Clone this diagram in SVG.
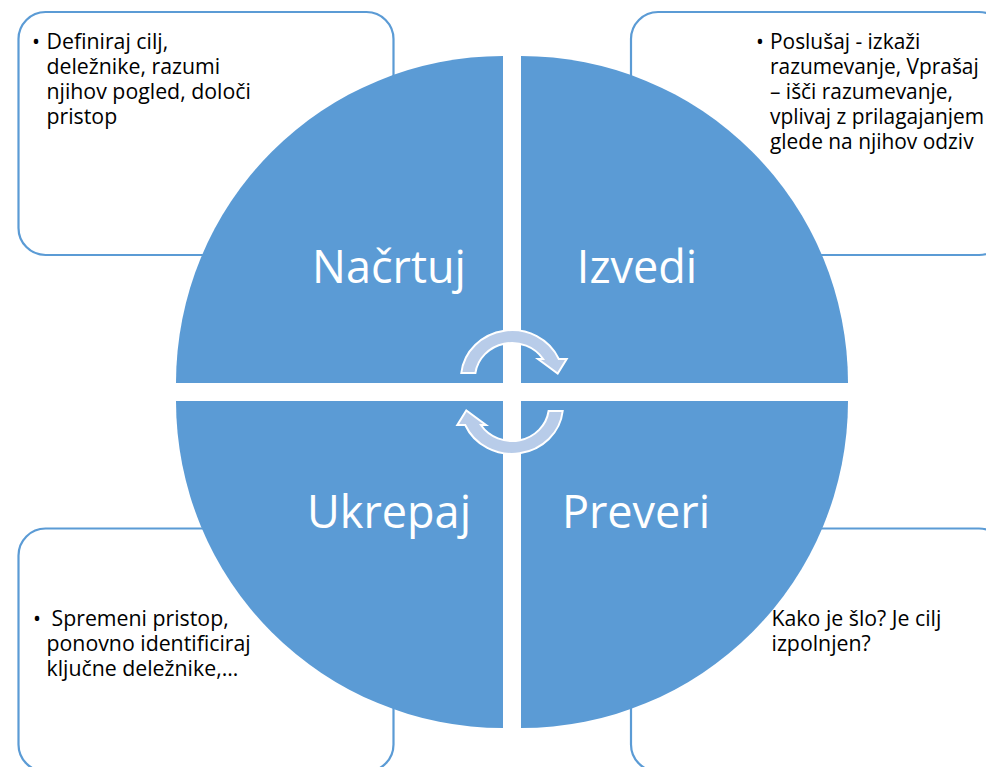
<svg xmlns="http://www.w3.org/2000/svg" width="986" height="767" viewBox="0 0 986 767">
<style>
.box{fill:#fff;stroke:#5B9BD5;stroke-width:2.2}
.quad{fill:#5B9BD5}
.big{font-family:"Open Sans","Noto Sans","Liberation Sans",sans-serif;font-size:45px;fill:#fff;text-anchor:middle}
.txt{font-family:"Open Sans","Noto Sans","Liberation Sans",sans-serif;font-size:21.3px;fill:#000}
.txt2{font-family:"Open Sans","Noto Sans","Liberation Sans",sans-serif;font-size:20.9px;fill:#000}
.arr{fill:#B8CCE9;stroke:#fff;stroke-width:2;stroke-linejoin:miter}
</style>
<rect width="986" height="767" fill="#fff"/>
<g id="box-tl">
<rect class="box" x="18.5" y="12" width="375" height="243" rx="27"/>
<text class="txt"><tspan x="32" y="49">•</tspan><tspan x="46.5" y="49">Definiraj cilj,</tspan><tspan x="46.5" y="74">deležnike, razumi</tspan><tspan x="46.5" y="99">njihov pogled, določi</tspan><tspan x="46.5" y="124">pristop</tspan></text>
</g>
<g id="box-tr">
<rect class="box" x="631" y="12" width="375" height="243" rx="27"/>
<text class="txt2"><tspan x="756" y="49">•</tspan><tspan x="770" y="49">Poslušaj - izkaži</tspan><tspan x="770" y="74">razumevanje, Vprašaj</tspan><tspan x="770" y="99">– išči razumevanje,</tspan><tspan x="770" y="124">vplivaj z prilagajanjem</tspan><tspan x="770" y="149">glede na njihov odziv</tspan></text>
</g>
<g id="box-bl">
<rect class="box" x="18.5" y="528.5" width="375" height="243" rx="27"/>
<text class="txt"><tspan x="33" y="626">•</tspan><tspan x="51.5" y="626">Spremeni pristop,</tspan><tspan x="46.5" y="651">ponovno identificiraj</tspan><tspan x="46.5" y="676">ključne deležnike,…</tspan></text>
</g>
<g id="box-br">
<rect class="box" x="631" y="528.5" width="375" height="243" rx="27"/>
<text class="txt"><tspan x="771.5" y="626">Kako je šlo? Je cilj</tspan><tspan x="771.5" y="651">izpolnjen?</tspan></text>
</g>
<g id="q-nacrtuj">
<path class="quad" d="M503,383 L176,383 A327,327 0 0 1 503,56 Z"/>
<text class="big" x="389" y="283">Načrtuj</text>
</g>
<g id="q-izvedi">
<path class="quad" d="M521,383 L521,56 A327,327 0 0 1 848,383 Z"/>
<text class="big" x="637" y="283">Izvedi</text>
</g>
<g id="q-preveri">
<path class="quad" d="M521,401 L848,401 A327,327 0 0 1 521,728 Z"/>
<text class="big" x="636" y="528">Preveri</text>
</g>
<g id="q-ukrepaj">
<path class="quad" d="M503,401 L503,728 A327,327 0 0 1 176,401 Z"/>
<text class="big" x="389" y="528">Ukrepaj</text>
</g>
<g id="connectors">
<path id="arrow-top" class="arr" d="M461.3,373 A51,48 0 0 1 558.8,359 L566.7,359 L557.7,373.5 L538,359 L543.1,359 A37,35 0 0 0 475.4,373 Z"/>
<path id="arrow-bottom" class="arr" transform="rotate(180 512 392)" d="M461.3,373 A51,48 0 0 1 558.8,359 L566.7,359 L557.7,373.5 L538,359 L543.1,359 A37,35 0 0 0 475.4,373 Z"/>
</g>
</svg>
